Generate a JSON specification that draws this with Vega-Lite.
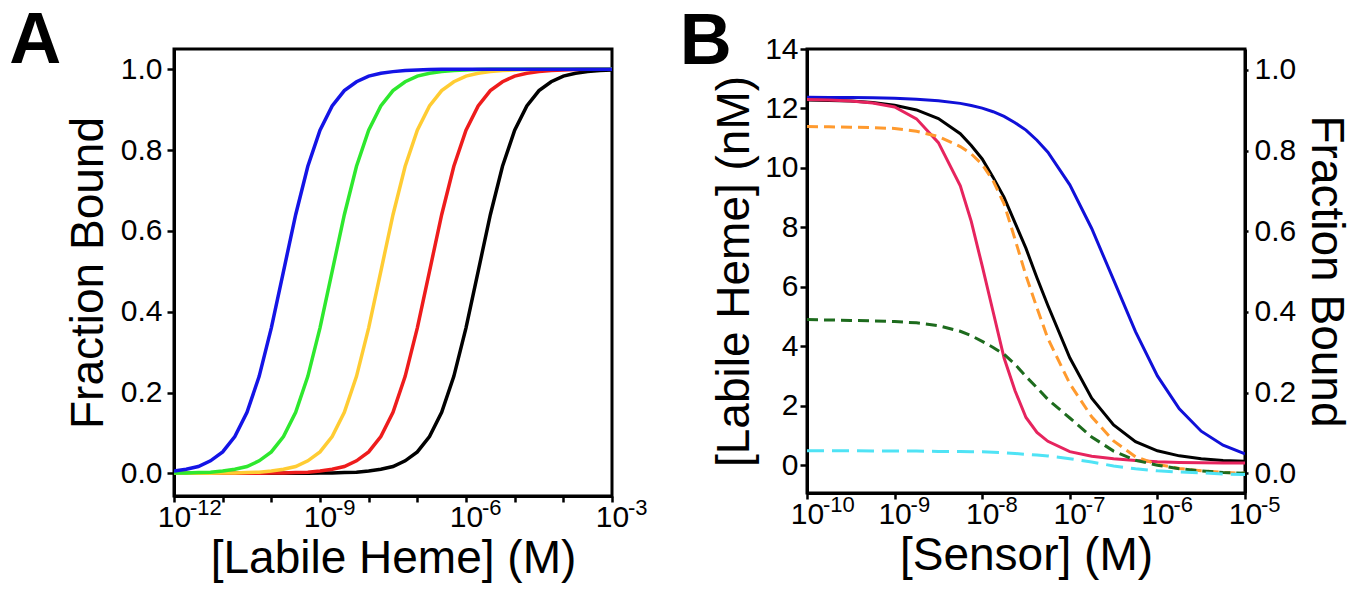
{
  "$schema": "https://vega.github.io/schema/vega-lite/v6.json",
  "background": "white",
  "padding": {"left": 7, "top": 3, "right": 4, "bottom": 2},
  "spacing": 28,
  "config": {
    "font": "Liberation Sans",
    "view": {"stroke": "black", "strokeWidth": 3},
    "axis": {
      "grid": false,
      "labelFont": "Liberation Sans",
      "labelColor": "black",
      "labelFontSize": 30,
      "titleFont": "Liberation Sans",
      "titleFontSize": 46,
      "titleFontWeight": "normal",
      "titleColor": "black",
      "tickColor": "black",
      "tickWidth": 2.5,
      "tickSize": 7,
      "domainColor": "black",
      "domainWidth": 3
    },
    "title": {"font": "Liberation Sans", "color": "black"}
  },
  "datasets": {
    "A": [
      {"x": 1e-12, "Blue": 0.006, "Green": 0.001, "Yellow": 0, "Red": 0, "Black": 0},
      {"x": 1.778e-12, "Blue": 0.010, "Green": 0.001, "Yellow": 0, "Red": 0, "Black": 0},
      {"x": 3.162e-12, "Blue": 0.017, "Green": 0.002, "Yellow": 0, "Red": 0, "Black": 0},
      {"x": 5.623e-12, "Blue": 0.031, "Green": 0.003, "Yellow": 0, "Red": 0, "Black": 0},
      {"x": 1e-11, "Blue": 0.053, "Green": 0.006, "Yellow": 0.001, "Red": 0, "Black": 0},
      {"x": 1.778e-11, "Blue": 0.091, "Green": 0.010, "Yellow": 0.001, "Red": 0, "Black": 0},
      {"x": 3.162e-11, "Blue": 0.151, "Green": 0.017, "Yellow": 0.002, "Red": 0, "Black": 0},
      {"x": 5.623e-11, "Blue": 0.240, "Green": 0.031, "Yellow": 0.003, "Red": 0, "Black": 0},
      {"x": 1e-10, "Blue": 0.360, "Green": 0.053, "Yellow": 0.006, "Red": 0.001, "Black": 0},
      {"x": 1.778e-10, "Blue": 0.500, "Green": 0.091, "Yellow": 0.010, "Red": 0.001, "Black": 0},
      {"x": 3.162e-10, "Blue": 0.640, "Green": 0.151, "Yellow": 0.017, "Red": 0.002, "Black": 0},
      {"x": 5.623e-10, "Blue": 0.760, "Green": 0.240, "Yellow": 0.031, "Red": 0.003, "Black": 0},
      {"x": 1e-9, "Blue": 0.849, "Green": 0.360, "Yellow": 0.053, "Red": 0.006, "Black": 0.001},
      {"x": 1.778e-9, "Blue": 0.909, "Green": 0.500, "Yellow": 0.091, "Red": 0.010, "Black": 0.001},
      {"x": 3.162e-9, "Blue": 0.947, "Green": 0.640, "Yellow": 0.151, "Red": 0.017, "Black": 0.002},
      {"x": 5.623e-9, "Blue": 0.969, "Green": 0.760, "Yellow": 0.240, "Red": 0.031, "Black": 0.003},
      {"x": 1e-8, "Blue": 0.983, "Green": 0.849, "Yellow": 0.360, "Red": 0.053, "Black": 0.006},
      {"x": 1.778e-8, "Blue": 0.990, "Green": 0.909, "Yellow": 0.500, "Red": 0.091, "Black": 0.010},
      {"x": 3.162e-8, "Blue": 0.994, "Green": 0.947, "Yellow": 0.640, "Red": 0.151, "Black": 0.017},
      {"x": 5.623e-8, "Blue": 0.997, "Green": 0.969, "Yellow": 0.760, "Red": 0.240, "Black": 0.031},
      {"x": 1e-7, "Blue": 0.998, "Green": 0.983, "Yellow": 0.849, "Red": 0.360, "Black": 0.053},
      {"x": 1.778e-7, "Blue": 0.999, "Green": 0.990, "Yellow": 0.909, "Red": 0.500, "Black": 0.091},
      {"x": 3.162e-7, "Blue": 1, "Green": 0.994, "Yellow": 0.947, "Red": 0.640, "Black": 0.151},
      {"x": 5.623e-7, "Blue": 1, "Green": 0.997, "Yellow": 0.969, "Red": 0.760, "Black": 0.240},
      {"x": 1e-6, "Blue": 1, "Green": 0.998, "Yellow": 0.983, "Red": 0.849, "Black": 0.360},
      {"x": 1.778e-6, "Blue": 1, "Green": 0.999, "Yellow": 0.990, "Red": 0.909, "Black": 0.500},
      {"x": 3.162e-6, "Blue": 1, "Green": 1, "Yellow": 0.994, "Red": 0.947, "Black": 0.640},
      {"x": 5.623e-6, "Blue": 1, "Green": 1, "Yellow": 0.997, "Red": 0.969, "Black": 0.760},
      {"x": 1e-5, "Blue": 1, "Green": 1, "Yellow": 0.998, "Red": 0.983, "Black": 0.849},
      {"x": 1.778e-5, "Blue": 1, "Green": 1, "Yellow": 0.999, "Red": 0.990, "Black": 0.909},
      {"x": 3.162e-5, "Blue": 1, "Green": 1, "Yellow": 1, "Red": 0.994, "Black": 0.947},
      {"x": 5.623e-5, "Blue": 1, "Green": 1, "Yellow": 1, "Red": 0.997, "Black": 0.969},
      {"x": 1e-4, "Blue": 1, "Green": 1, "Yellow": 1, "Red": 0.998, "Black": 0.983},
      {"x": 1.778e-4, "Blue": 1, "Green": 1, "Yellow": 1, "Red": 0.999, "Black": 0.990},
      {"x": 3.162e-4, "Blue": 1, "Green": 1, "Yellow": 1, "Red": 1, "Black": 0.994},
      {"x": 5.623e-4, "Blue": 1, "Green": 1, "Yellow": 1, "Red": 1, "Black": 0.997},
      {"x": 1e-3, "Blue": 1, "Green": 1, "Yellow": 1, "Red": 1, "Black": 0.998}
    ],
    "B": [
      {"x": 1e-10, "Blue": 12.38, "Black": 12.28, "Crimson": 12.30, "Orange": 0.860, "DkGreen": 0.381, "Cyan": 0.056},
      {"x": 1.778e-10, "Blue": 12.37, "Black": 12.27, "Crimson": 12.28, "Orange": 0.859, "DkGreen": 0.380, "Cyan": 0.056},
      {"x": 3.162e-10, "Blue": 12.37, "Black": 12.25, "Crimson": 12.25, "Orange": 0.858, "DkGreen": 0.379, "Cyan": 0.056},
      {"x": 5.623e-10, "Blue": 12.36, "Black": 12.20, "Crimson": 12.18, "Orange": 0.857, "DkGreen": 0.378, "Cyan": 0.055},
      {"x": 1e-9, "Blue": 12.34, "Black": 12.11, "Crimson": 12.05, "Orange": 0.855, "DkGreen": 0.376, "Cyan": 0.055},
      {"x": 1.778e-9, "Blue": 12.31, "Black": 11.95, "Crimson": 11.65, "Orange": 0.848, "DkGreen": 0.373, "Cyan": 0.055},
      {"x": 3.162e-9, "Blue": 12.26, "Black": 11.66, "Crimson": 10.85, "Orange": 0.835, "DkGreen": 0.366, "Cyan": 0.054},
      {"x": 5.623e-9, "Blue": 12.17, "Black": 11.15, "Crimson": 9.4, "Orange": 0.810, "DkGreen": 0.352, "Cyan": 0.054},
      {"x": 7.499e-9, "Blue": 12.10, "Black": 10.75, "Crimson": 8.2, "Orange": 0.792, "DkGreen": 0.341, "Cyan": 0.053},
      {"x": 1e-8, "Blue": 12.01, "Black": 10.30, "Crimson": 6.7, "Orange": 0.766, "DkGreen": 0.327, "Cyan": 0.053},
      {"x": 1.334e-8, "Blue": 11.89, "Black": 9.68, "Crimson": 5.15, "Orange": 0.725, "DkGreen": 0.312, "Cyan": 0.052},
      {"x": 1.778e-8, "Blue": 11.73, "Black": 9.01, "Crimson": 3.6, "Orange": 0.668, "DkGreen": 0.295, "Cyan": 0.051},
      {"x": 2.371e-8, "Blue": 11.52, "Black": 8.15, "Crimson": 2.5, "Orange": 0.58, "DkGreen": 0.270, "Cyan": 0.049},
      {"x": 3.162e-8, "Blue": 11.27, "Black": 7.29, "Crimson": 1.6, "Orange": 0.49, "DkGreen": 0.240, "Cyan": 0.047},
      {"x": 4.217e-8, "Blue": 10.93, "Black": 6.30, "Crimson": 1.1, "Orange": 0.41, "DkGreen": 0.212, "Cyan": 0.045},
      {"x": 5.623e-8, "Blue": 10.53, "Black": 5.37, "Crimson": 0.8, "Orange": 0.334, "DkGreen": 0.183, "Cyan": 0.043},
      {"x": 1e-7, "Blue": 9.43, "Black": 3.61, "Crimson": 0.45, "Orange": 0.222, "DkGreen": 0.137, "Cyan": 0.036},
      {"x": 1.778e-7, "Blue": 7.96, "Black": 2.25, "Crimson": 0.30, "Orange": 0.140, "DkGreen": 0.090, "Cyan": 0.028},
      {"x": 3.162e-7, "Blue": 6.23, "Black": 1.35, "Crimson": 0.21, "Orange": 0.080, "DkGreen": 0.055, "Cyan": 0.018},
      {"x": 5.623e-7, "Blue": 4.49, "Black": 0.79, "Crimson": 0.15, "Orange": 0.041, "DkGreen": 0.032, "Cyan": 0.011},
      {"x": 1e-6, "Blue": 3.00, "Black": 0.48, "Crimson": 0.11, "Orange": 0.022, "DkGreen": 0.020, "Cyan": 0.006},
      {"x": 1.778e-6, "Blue": 1.89, "Black": 0.31, "Crimson": 0.09, "Orange": 0.012, "DkGreen": 0.011, "Cyan": 0.003},
      {"x": 3.162e-6, "Blue": 1.14, "Black": 0.21, "Crimson": 0.08, "Orange": 0.006, "DkGreen": 0.006, "Cyan": 0.001},
      {"x": 5.623e-6, "Blue": 0.67, "Black": 0.15, "Crimson": 0.07, "Orange": 0.002, "DkGreen": 0.002, "Cyan": -0.002},
      {"x": 1e-5, "Blue": 0.38, "Black": 0.13, "Crimson": 0.07, "Orange": 0, "DkGreen": 0, "Cyan": -0.003}
    ]
  },
  "hconcat": [
    {
      "width": 438,
      "height": 447,
      "title": {"text": "A", "orient": "left", "anchor": "end", "frame": "group", "angle": 0, "align": "right", "baseline": "top", "fontSize": 72, "fontWeight": "bold", "offset": -48, "dy": -43},
      "encoding": {
        "x": {
          "field": "x", "type": "quantitative",
          "scale": {"type": "log", "domain": [1e-12, 1e-3], "nice": false},
          "axis": {
            "title": "[Labile Heme] (M)",
            "values": [1e-12, 1e-11, 1e-10, 1e-9, 1e-8, 1e-7, 1e-6, 1e-5, 1e-4, 1e-3],
            "labelExpr": "indexof([-12, -9, -6, -3], round(log(datum.value) / LN10)) >= 0 ? '10' : ''",
            "labelOverlap": false, "labelFlush": false,
            "tickSize": 6, "labelPadding": 0, "titlePadding": 4
          }
        }
      },
      "layer": [
        {
          "data": {"name": "A"},
          "transform": [{"fold": ["Black", "Red", "Yellow", "Green", "Blue"], "as": ["curve", "frac"]}],
          "mark": {"type": "line", "strokeWidth": 3.5, "clip": true},
          "encoding": {
            "y": {
              "field": "frac", "type": "quantitative",
              "scale": {"domain": [-0.056, 1.05], "nice": false, "zero": false},
              "axis": {"title": "Fraction Bound", "values": [0, 0.2, 0.4, 0.6, 0.8, 1.0], "format": ".1f", "labelPadding": 5, "titlePadding": 8}
            },
            "color": {
              "field": "curve", "type": "nominal",
              "scale": {"domain": ["Black", "Red", "Yellow", "Green", "Blue"], "range": ["#000000", "#ee1c1c", "#ffcc33", "#2ee82e", "#1414e6"]},
              "legend": null
            }
          }
        },
        {
          "data": {"values": [{"x": 1e-12, "e": "-12"}, {"x": 1e-9, "e": "-9"}, {"x": 1e-6, "e": "-6"}, {"x": 1e-3, "e": "-3"}]},
          "mark": {"type": "text", "align": "left", "baseline": "top", "dx": 16, "dy": 2, "fontSize": 22, "font": "Liberation Sans", "color": "black"},
          "encoding": {
            "y": {"datum": -0.056, "type": "quantitative", "title": "Fraction Bound"},
            "text": {"field": "e", "type": "nominal"}
          }
        }
      ]
    },
    {
      "width": 438,
      "height": 444,
      "title": {"text": "B", "orient": "left", "anchor": "end", "frame": "group", "angle": 0, "align": "left", "baseline": "top", "fontSize": 72, "fontWeight": "bold", "offset": -52, "dy": -42, "dx": -32},
      "encoding": {
        "x": {
          "field": "x", "type": "quantitative",
          "scale": {"type": "log", "domain": [1e-10, 1e-5], "nice": false},
          "axis": {
            "title": "[Sensor] (M)",
            "values": [1e-10, 1e-9, 1e-8, 1e-7, 1e-6, 1e-5],
            "labelExpr": "'10'",
            "labelOverlap": false, "labelFlush": false,
            "tickSize": 6, "labelPadding": 0, "titlePadding": 4
          }
        }
      },
      "layer": [
        {
          "data": {"name": "B"},
          "transform": [{"fold": ["Blue", "Black", "Crimson"], "as": ["curve", "nM"]}],
          "mark": {"type": "line", "strokeWidth": 3, "clip": true},
          "encoding": {
            "y": {
              "field": "nM", "type": "quantitative",
              "scale": {"domain": [-0.94, 14], "nice": false, "zero": false},
              "axis": {"orient": "left", "title": "[Labile Heme] (nM)", "values": [0, 2, 4, 6, 8, 10, 12, 14], "labelPadding": 2, "titlePadding": 6}
            },
            "color": {
              "field": "curve", "type": "nominal",
              "scale": {"domain": ["Blue", "Black", "Crimson"], "range": ["#1010d8", "#000000", "#e6245e"]},
              "legend": null
            }
          }
        },
        {
          "data": {"name": "B"},
          "transform": [{"fold": ["Orange", "DkGreen", "Cyan"], "as": ["curve", "frac"]}],
          "mark": {"type": "line", "strokeWidth": 3, "clip": true},
          "encoding": {
            "y": {
              "field": "frac", "type": "quantitative",
              "scale": {"domain": [-0.049, 1.052], "nice": false, "zero": false},
              "axis": {"orient": "right", "title": "Fraction Bound", "values": [0, 0.2, 0.4, 0.6, 0.8, 1.0], "format": ".1f", "tickSize": 3, "labelPadding": 6, "titlePadding": 6}
            },
            "color": {
              "field": "curve", "type": "nominal",
              "scale": {"domain": ["Orange", "DkGreen", "Cyan"], "range": ["#ff9a2e", "#1d6b1d", "#4fe3f5"]},
              "legend": null
            },
            "strokeDash": {
              "field": "curve", "type": "nominal",
              "scale": {"domain": ["Orange", "DkGreen", "Cyan"], "range": [[11, 6], [11, 6], [17, 8]]},
              "legend": null
            }
          }
        },
        {
          "data": {"values": [{"x": 1e-10, "e": "-10"}, {"x": 1e-9, "e": "-9"}, {"x": 1e-8, "e": "-8"}, {"x": 1e-7, "e": "-7"}, {"x": 1e-6, "e": "-6"}, {"x": 1e-5, "e": "-5"}]},
          "mark": {"type": "text", "align": "left", "baseline": "top", "dx": 16, "dy": 2, "fontSize": 22, "font": "Liberation Sans", "color": "black"},
          "encoding": {
            "y": {"datum": 0, "type": "quantitative", "scale": {"domain": [0, 1], "nice": false}, "axis": null},
            "text": {"field": "e", "type": "nominal"}
          }
        }
      ],
      "resolve": {"scale": {"y": "independent", "color": "independent", "strokeDash": "independent"}}
    }
  ]
}
